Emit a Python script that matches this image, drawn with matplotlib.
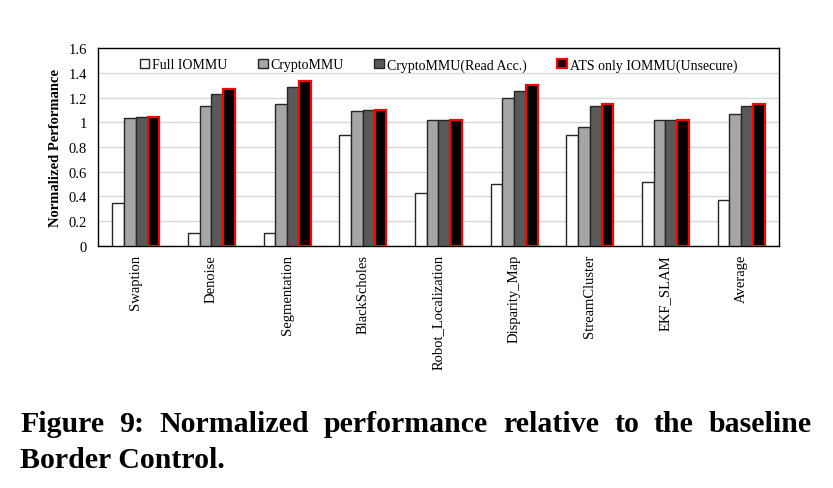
import numpy as np
import matplotlib
matplotlib.use("Agg")
import matplotlib.pyplot as plt

# === DATA ===
benchmarks = ["Swaption", "Denoise", "Segmentation", "BlackScholes",
              "Robot_Localization", "Disparity_Map", "StreamCluster",
              "EKF_SLAM", "Average"]
full_iommu = [0.35, 0.10, 0.10, 0.90, 0.43, 0.50, 0.90, 0.52, 0.37]
crypto_mmu = [1.035, 1.13, 1.145, 1.095, 1.02, 1.20, 0.96, 1.02, 1.07]
crypto_read = [1.04, 1.23, 1.29, 1.10, 1.02, 1.255, 1.135, 1.02, 1.13]
ats_only = [1.04, 1.27, 1.335, 1.10, 1.02, 1.305, 1.145, 1.02, 1.15]
series_names = ["Full IOMMU", "CryptoMMU", "CryptoMMU(Read Acc.)",
                "ATS only IOMMU(Unsecure)"]
yticks = [0, 0.2, 0.4, 0.6, 0.8, 1, 1.2, 1.4, 1.6]
ytick_labels = ["0", "0.2", "0.4", "0.6", "0.8", "1", "1.2", "1.4", "1.6"]
caption_line1 = "Figure 9: Normalized performance relative to the baseline"
caption_line2 = "Border Control."

plt.rcParams['font.family'] = ['Liberation Serif', 'DejaVu Serif']

W, H = 833, 489
fig = plt.figure(figsize=(W / 100, H / 100), dpi=100)
ax = fig.add_axes([0.1176, 0.4955, 0.8175, 0.4035])

x = np.arange(len(benchmarks))
w = 0.155
faces = ["white", "#a6a6a6", "#595959", "black"]
edges = ["#262626", "#262626", "#262626", "red"]
lws = [1.0, 1.0, 1.0, 1.6]
all_series = [full_iommu, crypto_mmu, crypto_read, ats_only]

for i, vals in enumerate(all_series):
    ax.bar(x + (i - 1.5) * w, vals, w, color=faces[i], edgecolor=edges[i],
           linewidth=lws[i], label=series_names[i], zorder=3)

ax.set_xlim(-0.5, len(benchmarks) - 0.5)
ax.set_ylim(0, 1.6)
ax.set_yticks(yticks)
ax.set_yticklabels(ytick_labels, fontsize=10.5)
ax.set_xticks(x)
ax.set_xticklabels(benchmarks, rotation=90, fontsize=10.5)
ax.tick_params(axis='both', length=0)
ax.tick_params(axis='y', pad=8)
ax.tick_params(axis='x', pad=6)
ax.yaxis.grid(True, color="#d9d9d9", linewidth=1.0, zorder=0)
for sp in ax.spines.values():
    sp.set_linewidth(1.0)
    sp.set_color("black")

ax.set_ylabel("Normalized Performance", fontsize=10.5, fontweight='bold', labelpad=5)

ax.legend(loc="upper center", bbox_to_anchor=(0.5, 1.0), ncol=4, frameon=False,
          fontsize=10, handlelength=0.7, handleheight=0.7, handletextpad=0.2,
          columnspacing=2.2, borderaxespad=0.3)

# caption, first line justified between x=20 and x=812 like the paper
cap_size = 21.5
left_px, right_px = 20, 812
renderer = fig.canvas.get_renderer()
words = caption_line1.split(" ")
texts = [fig.text(0, 1 - 432 / H, wd, fontsize=cap_size, fontweight='bold',
                  va='baseline', ha='left') for wd in words]
widths = [t.get_window_extent(renderer).width for t in texts]
gap = (right_px - left_px - sum(widths)) / (len(words) - 1)
pos = left_px
for t, wd_px in zip(texts, widths):
    t.set_x(pos / W)
    pos += wd_px + gap
fig.text(left_px / W, 1 - 468 / H, caption_line2, fontsize=cap_size,
         fontweight='bold', va='baseline', ha='left')

fig.savefig("out.png", dpi=100)
